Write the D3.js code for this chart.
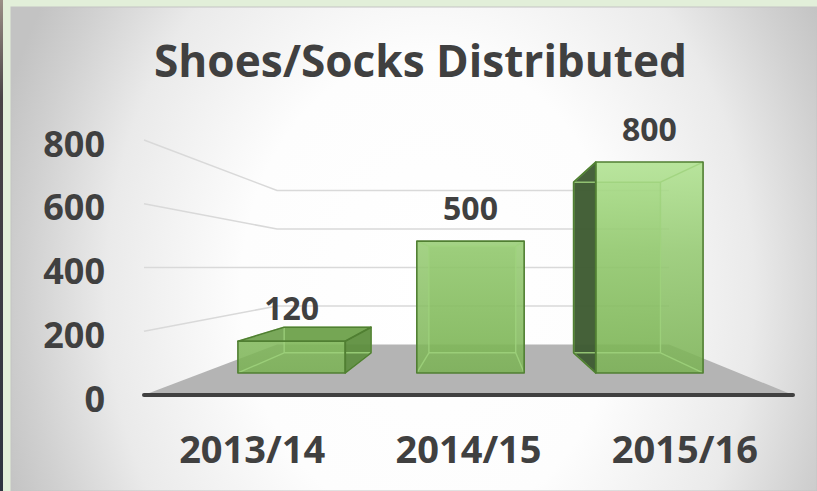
<!DOCTYPE html>
<html>
<head>
<meta charset="utf-8">
<script src="https://cdn.jsdelivr.net/npm/d3@7"></script>
<style>
  html, body { margin: 0; padding: 0; background: #e2efd9; }
  svg { display: block; }
</style>
</head>
<body>
<svg id="chart" width="817" height="491"></svg>
<script>
// ---- data ----
const categories = ["2013/14", "2014/15", "2015/16"];
const values = [120, 500, 800];
const yTicks = [0, 200, 400, 600, 800];
const gridTicks = [200, 400, 600, 800];
const title = "Shoes/Socks Distributed";

// ---- setup ----
const svg = d3.select("#chart");
const W = 817, H = 491;
const FONT = "'Open Sans', 'Noto Sans', sans-serif";
const TXT = "#404040";

const defs = svg.append("defs");
const bg = defs.append("radialGradient").attr("id", "bgGrad")
  .attr("gradientUnits", "userSpaceOnUse")
  .attr("cx", 430).attr("cy", 290).attr("r", 450)
  .attr("gradientTransform", "translate(430,290) scale(1,1.25) translate(-430,-290)");
[[0, "#ffffff"], [0.42, "#fdfdfd"], [0.72, "#eaeaea"], [0.9, "#d0d0d0"], [1, "#c3c3c3"]]
  .forEach(([o, c]) => bg.append("stop").attr("offset", o).attr("stop-color", c));

const fg = defs.append("linearGradient").attr("id", "frontGrad")
  .attr("gradientUnits", "userSpaceOnUse").attr("x1", 0).attr("y1", 150).attr("x2", 0).attr("y2", 375);
[[0, "#b2e592"], [0.45, "#93c96f"], [1, "#79b152"]]
  .forEach(([o, c]) => fg.append("stop").attr("offset", o).attr("stop-color", c));

const strip = defs.append("linearGradient").attr("id", "stripGrad")
  .attr("x1", 0).attr("y1", 0).attr("x2", 0).attr("y2", 1);
[[0, "#9a8f86"], [0.2, "#4a4446"], [1, "#2e3440"]]
  .forEach(([o, c]) => strip.append("stop").attr("offset", o).attr("stop-color", c));

// outer frame
svg.append("rect").attr("x", 0).attr("y", 0).attr("width", W).attr("height", H).attr("fill", "#e2efd9");
svg.append("rect").attr("x", 0).attr("y", 0).attr("width", 3).attr("height", H).attr("fill", "url(#stripGrad)");
// chart panel
svg.append("rect").attr("x", 11).attr("y", 7).attr("width", W - 11).attr("height", H - 7)
  .attr("fill", "url(#bgGrad)").attr("stroke", "#c4c4c4").attr("stroke-width", 1);

// ---- scales ----
const y = d3.scaleLinear().domain([0, 800]).range([395, 140]);
const x = d3.scaleBand().domain(categories).range([144, 793]).paddingInner(0.4).paddingOuter(0.2);

// one-point perspective
const vx = 480, vy = y(400);
const sFloorFront = 1, sFloorBack = 0.604, sBarFront = 0.827, sBarBack = 0.669;
const X0 = x.range()[0], X1 = x.range()[1];
function P(X, v, s) { return [vx + (X - vx) * s, vy + (y(v) - vy) * s]; }
const poly = pts => "M" + pts.map(p => p.join(",")).join("L") + "Z";
const line = d3.line();

// floor
svg.append("path")
  .attr("d", poly([P(X0, 0, sFloorFront), P(X1, 0, sFloorFront), P(X1, 0, sFloorBack), P(X0, 0, sFloorBack)]))
  .attr("fill", "#b4b4b4");

// gridlines: side wall + back wall
svg.append("g").selectAll("path").data(gridTicks).join("path")
  .attr("d", v => line([P(X0, v, sFloorFront), P(X0, v, sFloorBack), P(X1, v, sFloorBack)]))
  .attr("fill", "none").attr("stroke", "#d9d9d9").attr("stroke-width", 1.6);

// axis base line
svg.append("path")
  .attr("d", line([P(X0, 0, 1), P(X1, 0, 1)]))
  .attr("stroke", "#404040").attr("stroke-width", 4).attr("stroke-linecap", "round");

// ---- bars ----
const gBars = svg.append("g");
categories.forEach((c, i) => {
  const v = values[i];
  const a = x(c), b = x(c) + x.bandwidth();
  const sf = sBarFront, sb = sBarBack;
  const faces = {
    front: [P(a, 0, sf), P(b, 0, sf), P(b, v, sf), P(a, v, sf)],
    back: [P(a, 0, sb), P(b, 0, sb), P(b, v, sb), P(a, v, sb)],
    top: [P(a, v, sf), P(b, v, sf), P(b, v, sb), P(a, v, sb)],
    left: [P(a, 0, sf), P(a, v, sf), P(a, v, sb), P(a, 0, sb)],
    right: [P(b, 0, sf), P(b, v, sf), P(b, v, sb), P(b, 0, sb)]
  };
  const visible = [];
  if (a > vx) visible.push(["left", "#3d5a31", 0.95]);
  if (b < vx) visible.push(["right", "#5b8d3c", 0.9]);
  if (y(v) > vy) visible.push(["top", "#6a9f48", 0.9]);
  visible.push(["front", "url(#frontGrad)", 0.86]);

  const g = gBars.append("g");
  g.append("path").attr("d", poly(faces.back)).attr("fill", "#7fb557").attr("fill-opacity", 0.35);
  visible.forEach(([k, fill, op]) => {
    g.append("path").attr("d", poly(faces[k])).attr("fill", fill).attr("fill-opacity", op);
  });
  // hidden (inner) edges
  const inner = [];
  const bk = faces.back;
  for (let j = 0; j < 4; j++) inner.push([bk[j], bk[(j + 1) % 4]]);
  [[a, 0], [b, 0], [b, v], [a, v]].forEach(([X, vv]) => inner.push([P(X, vv, sf), P(X, vv, sb)]));
  g.append("g").selectAll("path").data(inner).join("path")
    .attr("d", d => line(d)).attr("stroke", "#9fd27c").attr("stroke-opacity", 0.85)
    .attr("stroke-width", 1.4).attr("fill", "none");
  visible.forEach(([k]) => {
    g.append("path").attr("d", poly(faces[k])).attr("fill", "none")
      .attr("stroke", "#507f32").attr("stroke-width", 1.6).attr("stroke-linejoin", "round");
  });
});

// data labels
svg.append("g").selectAll("text").data(categories).join("text")
  .attr("x", c => P(x(c) + x.bandwidth() / 2, values[categories.indexOf(c)], sBarFront)[0])
  .attr("y", c => P(x(c) + x.bandwidth() / 2, values[categories.indexOf(c)], sBarFront)[1] - 21)
  .attr("text-anchor", "middle")
  .attr("font-family", FONT).attr("font-weight", 700).attr("font-size", 32).attr("fill", TXT)
  .text(c => values[categories.indexOf(c)]);

// y axis
const yAxis = svg.append("g").attr("transform", "translate(105,0)")
  .call(d3.axisLeft(y).tickValues(yTicks).tickSize(0).tickPadding(0));
yAxis.select(".domain").remove();
yAxis.selectAll("text")
  .attr("dy", "0.45em")
  .attr("font-family", FONT).attr("font-weight", 700).attr("font-size", 36).attr("fill", TXT);

// x axis
const xAxis = svg.append("g").attr("transform", "translate(0,395)")
  .call(d3.axisBottom(x).tickSize(0).tickPadding(41));
xAxis.select(".domain").remove();
xAxis.selectAll("text")
  .attr("font-family", FONT).attr("font-weight", 700).attr("font-size", 38).attr("fill", TXT);

// title
svg.append("text")
  .attr("x", 420.5).attr("y", 77)
  .attr("text-anchor", "middle")
  .attr("font-family", FONT).attr("font-weight", 700).attr("font-size", 45).attr("fill", TXT)
  .attr("textLength", 533).attr("lengthAdjust", "spacingAndGlyphs")
  .text(title);
</script>
</body>
</html>
